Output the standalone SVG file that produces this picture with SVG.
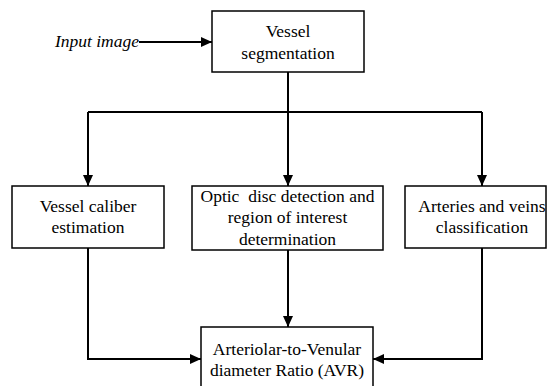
<svg xmlns="http://www.w3.org/2000/svg" width="547" height="386" viewBox="0 0 547 386">
<style>
.box{fill:#fff;stroke:#000;stroke-width:1.5}
.t{font-family:'Liberation Serif','Times New Roman',Times,'DejaVu Serif',serif;font-size:17.5px;fill:#000;text-anchor:middle}
.c{fill:none;stroke:#000;stroke-width:2}
</style>
<defs>
<marker id="ah" markerUnits="userSpaceOnUse" markerWidth="12" markerHeight="10" refX="11" refY="5" orient="auto">
<path d="M0,0 L11,5 L0,10 Z" fill="#000"/>
</marker>
</defs>
<rect width="547" height="386" fill="#fff"/>
<g id="connectors">
<line class="c" x1="139" y1="42" x2="212" y2="42" marker-end="url(#ah)"/>
<polyline class="c" points="288,72 288,112"/>
<polyline class="c" points="88,112 482,112"/>
<line class="c" x1="88" y1="112" x2="88" y2="186" marker-end="url(#ah)"/>
<line class="c" x1="288" y1="112" x2="288" y2="186" marker-end="url(#ah)"/>
<line class="c" x1="482" y1="112" x2="482" y2="186" marker-end="url(#ah)"/>
<polyline class="c" points="88,248 88,359 201,359" marker-end="url(#ah)"/>
<line class="c" x1="288" y1="250" x2="288" y2="327" marker-end="url(#ah)"/>
<polyline class="c" points="482,248 482,359 373,359" marker-end="url(#ah)"/>
</g>
<g id="input">
<text class="t" x="139" y="47" style="text-anchor:end;font-style:italic">Input image</text>
</g>
<g id="seg">
<rect class="box" x="212" y="11" width="152" height="61"/>
<text class="t" x="288" y="37">Vessel</text>
<text class="t" x="288" y="59">segmentation</text>
</g>
<g id="caliber">
<rect class="box" x="12" y="186" width="152" height="62"/>
<text class="t" x="88" y="212">Vessel caliber</text>
<text class="t" x="88" y="233">estimation</text>
</g>
<g id="optic">
<rect class="box" x="192" y="186" width="191" height="64"/>
<text class="t" x="287.5" y="202">Optic&#160; disc detection and</text>
<text class="t" x="287.5" y="223">region of interest</text>
<text class="t" x="287.5" y="245">determination</text>
</g>
<g id="av">
<rect class="box" x="405" y="186" width="141" height="62"/>
<text class="t" x="482" y="212">Arteries and veins</text>
<text class="t" x="482" y="233">classification</text>
</g>
<g id="avr">
<rect class="box" x="201" y="327" width="172" height="70"/>
<text class="t" x="287" y="355">Arteriolar-to-Venular</text>
<text class="t" x="287" y="376">diameter Ratio (AVR)</text>
</g>
</svg>
